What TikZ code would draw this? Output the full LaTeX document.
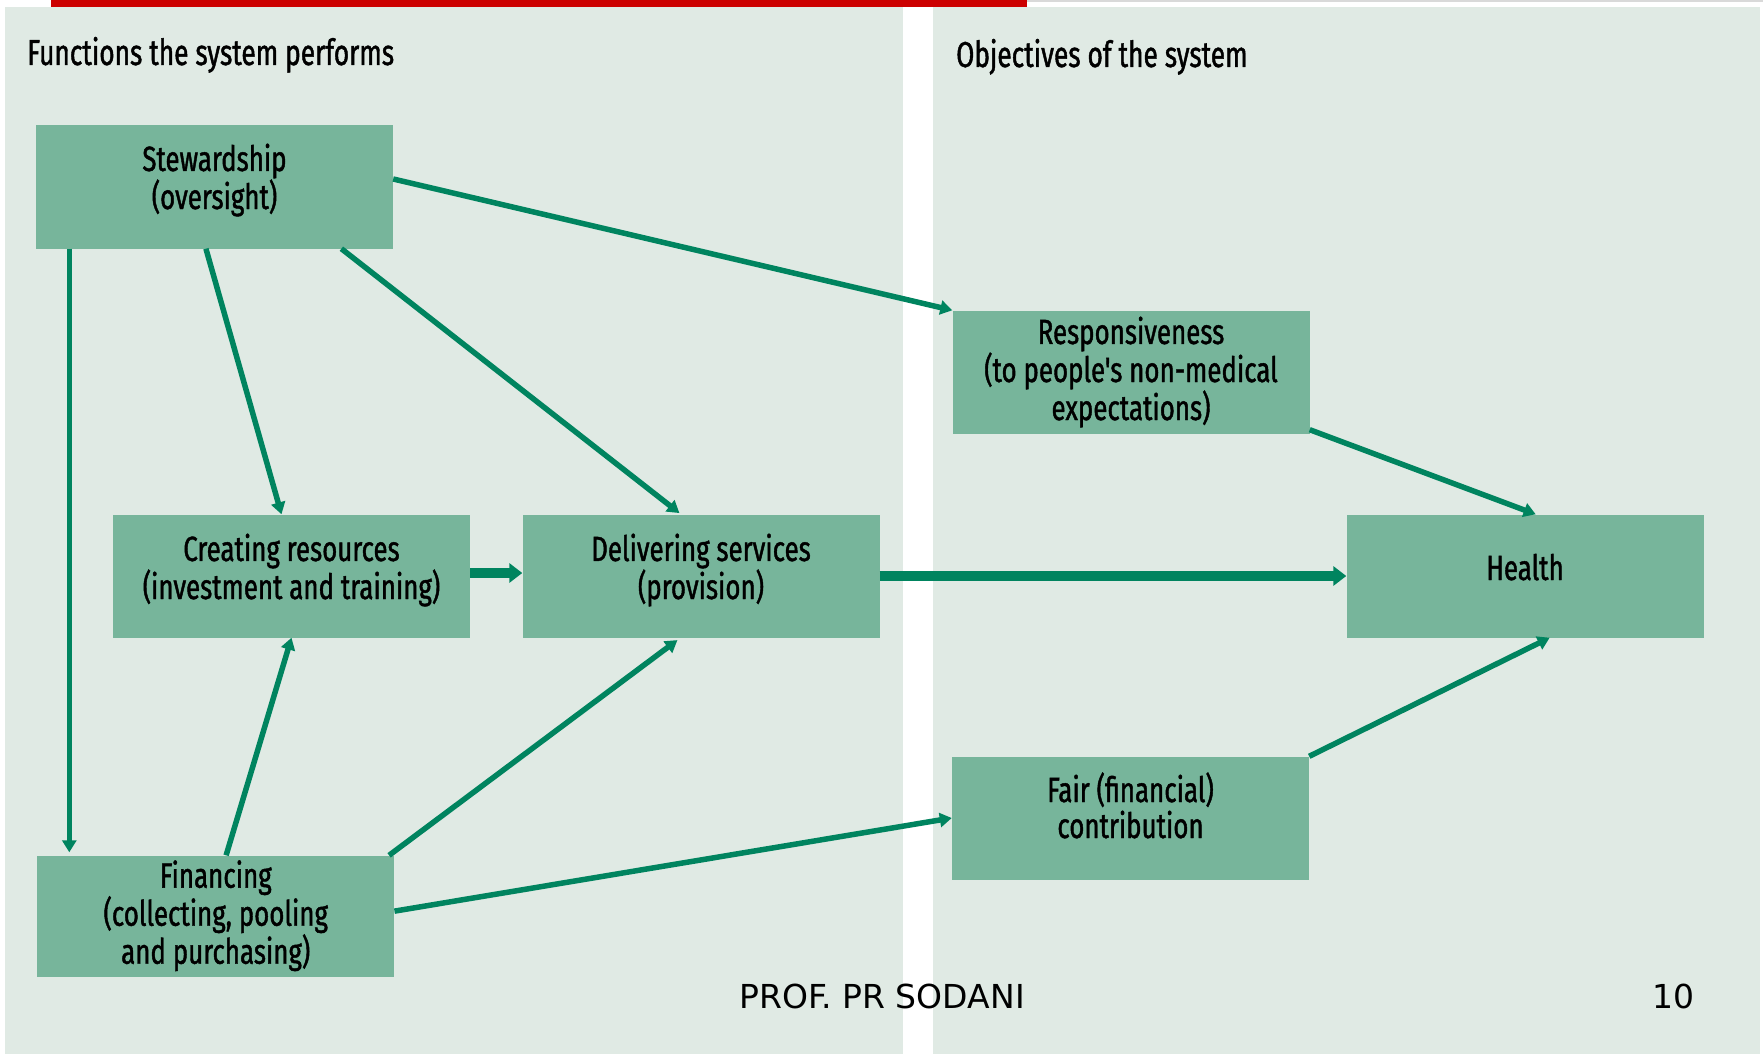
\documentclass[tikz,border=0pt]{standalone}
\usepackage{fontspec}
\setmainfont{Fira Sans}
\newfontfamily\condfont{Fira Sans}[FakeStretch=0.74,FakeBold=1.2]
\newfontfamily\headfont{Fira Sans}[FakeStretch=0.73,FakeBold=1.2]
\newfontfamily\footfont{DejaVu Sans}
\usetikzlibrary{arrows.meta,calc}
\definecolor{panelbg}{HTML}{E0EAE4}
\definecolor{boxfill}{HTML}{77B59B}
\definecolor{arrowc}{HTML}{00845F}
\definecolor{topred}{HTML}{CC0000}
\definecolor{topgray}{HTML}{D9D9D9}
% invisible struts fixing the text block's top and bottom
\newcommand\hst{\rule{0pt}{32pt}}
\newcommand\dst[1]{\rule[-#1]{0pt}{#1}}
\begin{document}
\begin{tikzpicture}[x=1pt,y=-1pt,
  box/.style={fill=boxfill, draw=none, minimum width=357pt, minimum height=123pt,
    inner sep=0pt, align=center, text=black,
    font=\condfont\fontsize{35}{36}\selectfont},
  conn/.style={draw=arrowc, line width=5.5pt, -{Triangle[length=12pt,width=14pt]}},
  thickconn/.style={draw=arrowc, line width=10pt, -{Triangle[length=13pt,width=19pt]}},
  heading/.style={anchor=base west, inner sep=0pt, text=black,
    font=\headfont\fontsize{36}{40}\selectfont},
  foot/.style={inner sep=0pt, text=black, font=\footfont\fontsize{33}{36}\selectfont}
]
\useasboundingbox (0,0) rectangle (1763,1054);
\fill[white] (0,0) rectangle (1763,1054);
\fill[topgray] (1027,0) rectangle (1763,2);
\fill[topred] (51,0) rectangle (1027,7.5);
\fill[panelbg] (4.5,7.5) rectangle (903,1054);
\fill[panelbg] (933,7.5) rectangle (1760,1054);

\node[heading] (h1) at (27,65) {Functions the system performs};
\node[heading] (h2) at (956,67) {Objectives of the system};

\node[box] (stew) at (214.5,187) {\hst Stewardship\\(oversight)\dst{26pt}};
\node[box] (create) at (291.5,576) {\hst Creating resources\\(investment and training)\dst{24pt}};
\node[box] (deliver) at (701,576) {\hst Delivering services\\(provision)\dst{24pt}};
\node[box, minimum height=121pt] (fin) at (215.75,916) {\hst Financing\\(collecting, pooling\\and purchasing)\dst{12.6pt}};
\node[box] (resp) at (1131,372) {\hst Responsiveness\\(to people's non-medical\\expectations)\dst{12pt}};
\node[box] (health) at (1525,576) {\hst Health\dst{24pt}};
\node[box] (fair) at (1130.5,818) {\hst Fair (financial)\\contribution\dst{28pt}};

\coordinate (v1) at ($(stew.south west)+(33.5,0)$);
\draw[conn, shorten >=3pt] (v1) -- (v1 |- fin.north);
\draw[conn] ($(stew.south west)!0.476!(stew.south east)$) -- ($(create.north west)!0.472!(create.north east)$);
\draw[conn, shorten >=2pt] ($(stew.south west)!0.855!(stew.south east)$) -- ($(deliver.north west)!0.444!(deliver.north east)$);
\draw[conn] ($(stew.north east)!0.435!(stew.south east)$) -- (resp.north west);
\draw[thickconn] ($(create.east)+(0,-3)$) -- ($(deliver.west)+(0,-3)$);
\draw[thickconn] (deliver.east) -- (health.west);
\draw[conn] ($(resp.south east)+(0,-4)$) -- ($(health.north west)!0.53!(health.north east)$);
\draw[conn] (fair.north east) -- ($(health.south west)!0.569!(health.south east)$);
\draw[conn] ($(fin.north west)!0.529!(fin.north east)$) -- (create.south);
\draw[conn, shorten >=4pt] ($(fin.north west)!0.985!(fin.north east)$) -- ($(deliver.south west)!0.443!(deliver.south east)$);
\draw[conn] ($(fin.north east)!0.46!(fin.south east)$) -- (fair.west);

\node[foot, anchor=base west] (author) at (739,1008) {PROF. PR SODANI};
\node[foot, anchor=base east] (page) at (1695,1008) {10};
\end{tikzpicture}
\end{document}
